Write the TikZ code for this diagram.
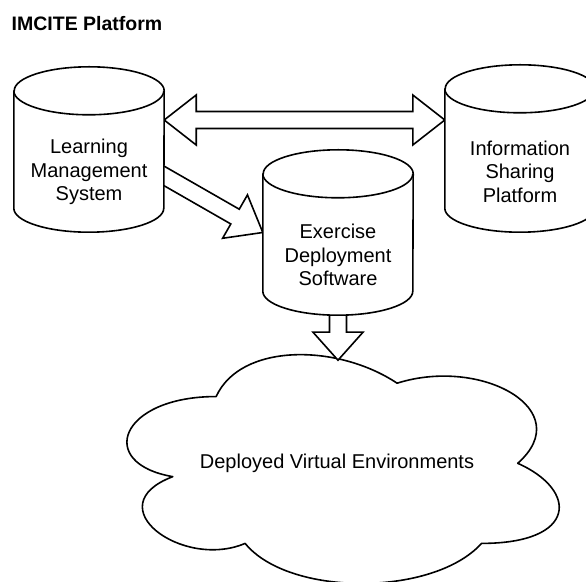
\documentclass[tikz,border=0pt]{standalone}
\usepackage{fontspec}
\setmainfont{Liberation Sans}
\usetikzlibrary{calc}

% Database cylinder drawn around an empty rectangular node
\newcommand{\dbcylinder}[1]{%
  \draw[outline] ($(#1.north west)+(0,-24)$) -- ($(#1.south west)+(0,24)$)
    arc[start angle=180, end angle=360, x radius=75pt, y radius=24pt]
    -- ($(#1.north east)+(0,-24)$)
    arc[start angle=0, end angle=180, x radius=75pt, y radius=24pt] -- cycle;
  \draw[outline, fill=none] ($(#1.north west)+(0,-24)$)
    arc[start angle=180, end angle=360, x radius=75pt, y radius=24pt];
}

\begin{document}
\begin{tikzpicture}[x=1pt, y=1pt,
  outline/.style={draw=black, line width=1.6pt, line join=round, fill=white},
  dbbox/.style={inner sep=0pt, minimum width=150pt},
  dblabel/.style={align=center, inner sep=0pt, font=\fontsize{20}{23.5}\selectfont},
  flexarrow/.style={draw=black, line width=1.6pt, line join=miter, fill=white}
]
\useasboundingbox (0,0) rectangle (586,581);
\fill[white] (0,0) rectangle (586,581);

% title
\node[anchor=base west, inner sep=0pt, font=\bfseries\fontsize{19.5}{23}\selectfont]
  (title) at (11.5,550) {IMCITE Platform};

% shape boxes
\node[dbbox, minimum height=165pt] (lms) at (89,431.5) {};
\node[dbbox, minimum height=167pt] (isp) at (520,432.5) {};
\node[dbbox, minimum height=165pt] (eds) at (338,348.5) {};
\node[inner sep=0pt, minimum width=482.5pt, minimum height=267pt] (envs) at (337,117.5) {};

% cloud
\begin{scope}[shift={(envs.north west)}, x=482.5pt, y=-267pt]
  \draw[outline] (0.25,0.25) .. controls (0.05,0.25) and (0,0.5) .. (0.16,0.55)
    .. controls (0,0.66) and (0.18,0.9) .. (0.31,0.8)
    .. controls (0.4,1) and (0.7,1) .. (0.8,0.8)
    .. controls (1,0.8) and (1,0.6) .. (0.875,0.5)
    .. controls (1,0.3) and (0.8,0.1) .. (0.625,0.2)
    .. controls (0.5,0.05) and (0.3,0.05) .. (0.25,0.25) -- cycle;
\end{scope}

% two-way arrow between the learning system and the sharing platform
\coordinate (shareL) at ($(lms.east)+(0,29.5)$);
\coordinate (shareR) at (isp.west |- shareL);
\draw[flexarrow] (shareL) -- ++(32,25) -- ++(0,-16.5)
  -- ($(shareR)+(-32,8.5)$) -- ++(0,16.5) -- (shareR) -- ++(-32,-25) -- ++(0,16.5)
  -- ($(shareL)+(32,-8.5)$) -- ++(0,-16.5) -- cycle;

% arrow from the learning system to the deployment software
\coordinate (deployTail) at ($(lms.east)+(0,-26.5)$);
\coordinate (deployTip) at (eds.west);
\coordinate (deployBack) at ($(deployTail)!-12pt!(deployTip)$);
\coordinate (deployBase) at ($(deployTip)!32pt!(deployTail)$);
\draw[flexarrow] (deployTip)
  -- ($(deployBase)!25pt!90:(deployTip)$)
  -- ($(deployBase)!8.5pt!90:(deployTip)$)
  -- ($(deployBack)!8.5pt!90:(deployTip)$)
  -- ($(deployBack)!8.5pt!-90:(deployTip)$)
  -- ($(deployBase)!8.5pt!-90:(deployTip)$)
  -- ($(deployBase)!25pt!-90:(deployTip)$) -- cycle;

% arrow from the deployment software down to the environments
\coordinate (envTail) at ($(eds.south)+(0,10)$);
\coordinate (envTip) at ($(eds.south)+(0,-45)$);
\draw[flexarrow] (envTip) -- ++(25,28) -- ++(-16.5,0)
  -- ($(envTail)+(8.5,0)$) -- ++(-17,0)
  -- ($(envTip)+(-8.5,28)$) -- ++(-16.5,0) -- cycle;

% cylinders
\dbcylinder{lms}
\dbcylinder{isp}
\dbcylinder{eds}

% labels
\node[dblabel] (lmstext) at ($(lms.center)+(0,-22.5)$) {Learning\\Management\\System};
\node[dblabel] (isptext) at ($(isp.center)+(0,-23)$) {Information\\Sharing\\Platform};
\node[dblabel] (edstext) at ($(eds.center)+(0,-22.5)$) {Exercise\\Deployment\\Software};
\node[dblabel] (envstext) at (envs.center) {Deployed Virtual Environments};
\end{tikzpicture}
\end{document}
